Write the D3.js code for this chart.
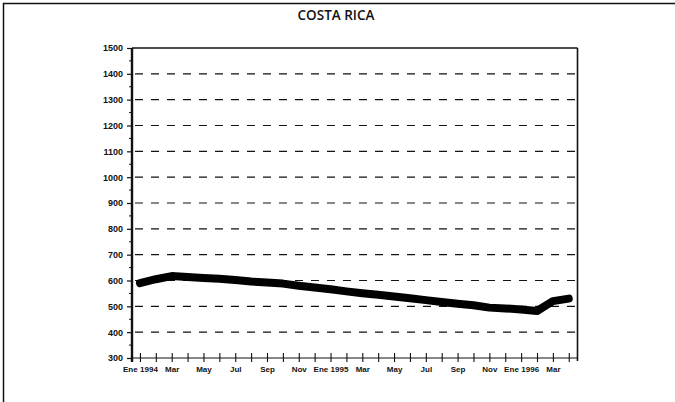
<!DOCTYPE html>
<html>
<head>
<meta charset="utf-8">
<script src="https://cdn.jsdelivr.net/npm/d3@7"></script>
<style>
  html, body { margin: 0; padding: 0; background: #fff; }
  svg { display: block; }
</style>
</head>
<body>
<svg id="chart" width="675" height="402"></svg>
<script>
const title = "COSTA RICA";
const months = ["Ene 1994","Feb","Mar","Abr","May","Jun","Jul","Ago","Sep","Oct","Nov","Dic",
                "Ene 1995","Feb","Mar","Abr","May","Jun","Jul","Ago","Sep","Oct","Nov","Dic",
                "Ene 1996","Feb","Mar","Abr"];
const values = [590,605,617,614,610,607,602,596,592,588,580,573,
                566,558,551,545,538,531,524,517,510,504,495,492,
                488,482,520,530];
const yTicks = [300,400,500,600,700,800,900,1000,1100,1200,1300,1400,1500];
const labelEvery = 2;

(function () {
const svg = d3.select("#chart");
const pL = 132, pR = 577.5, pT = 48, pB = 358;

const x = d3.scaleLinear().domain([-0.5, months.length - 0.45]).range([pL, pR]);
const y = d3.scaleLinear().domain([300, 1500]).range([pB, pT]);

// outer frame (top and left edges)
svg.append("line").attr("x1", 3).attr("x2", 675).attr("y1", 3.5).attr("y2", 3.5)
  .attr("stroke", "#111").attr("stroke-width", 1.5);
svg.append("line").attr("x1", 3.5).attr("x2", 3.5).attr("y1", 3).attr("y2", 402)
  .attr("stroke", "#111").attr("stroke-width", 1.5);

// title
svg.append("text").attr("x", 336).attr("y", 20).attr("text-anchor", "middle")
  .attr("font-family", "'Open Sans', sans-serif").attr("font-weight", 600)
  .attr("font-size", 13.5).attr("fill", "#111").text(title);

// dashed gridlines
svg.append("g").selectAll("line").data(yTicks.filter(d => d > 300 && d < 1500)).join("line")
  .attr("x1", pL).attr("x2", pR)
  .attr("y1", d => y(d)).attr("y2", d => y(d))
  .attr("stroke", "#111").attr("stroke-width", 1.2)
  .attr("stroke-dasharray", "8,8").attr("stroke-dashoffset", -3);

// top solid line and right border
svg.append("line").attr("x1", pL).attr("x2", pR).attr("y1", y(1500)).attr("y2", y(1500))
  .attr("stroke", "#111").attr("stroke-width", 1.3);
svg.append("line").attr("x1", pR).attr("x2", pR).attr("y1", y(1500)).attr("y2", pB + 3)
  .attr("stroke", "#111").attr("stroke-width", 1.6);

// y axis
const yAxis = d3.axisLeft(y).tickValues(yTicks).tickSize(5).tickPadding(4).tickFormat(d3.format("d"));
const gy = svg.append("g").attr("transform", `translate(${pL},0)`).call(yAxis);
gy.select(".domain").remove();
gy.selectAll(".tick line").attr("stroke", "#111").attr("stroke-width", 1.2);
gy.selectAll(".tick text").attr("font-family", "'Liberation Sans', Arial, sans-serif")
  .attr("font-weight", "bold").attr("font-size", 9).attr("fill", "#111");
// minor ticks
svg.append("g").selectAll("line").data(d3.range(350, 1500, 100)).join("line")
  .attr("x1", pL - 3).attr("x2", pL)
  .attr("y1", d => y(d)).attr("y2", d => y(d))
  .attr("stroke", "#111").attr("stroke-width", 1);
svg.append("line").attr("x1", pL).attr("x2", pL).attr("y1", y(1500)).attr("y2", pB + 4)
  .attr("stroke", "#111").attr("stroke-width", 2.4);

// x axis
svg.append("line").attr("x1", pL).attr("x2", pR).attr("y1", pB).attr("y2", pB)
  .attr("stroke", "#111").attr("stroke-width", 1.1);
const xAxis = d3.axisBottom(x).tickValues(d3.range(months.length)).tickSize(4).tickPadding(4)
  .tickFormat(i => i % labelEvery === 0 ? months[i] : "");
const gx = svg.append("g").attr("transform", `translate(0,${pB})`).call(xAxis);
gx.select(".domain").remove();
gx.selectAll(".tick line").attr("stroke", "#111").attr("stroke-width", 1.1).attr("y1", -5);
gx.selectAll(".tick text").attr("font-family", "'Liberation Sans', Arial, sans-serif")
  .attr("font-weight", "bold").attr("font-size", 8).attr("fill", "#111")
  .attr("textLength", function(i){ return months[i].length > 4 ? 35 : null; });

// data line
const line = d3.line().x((d, i) => x(i)).y(d => y(d)).curve(d3.curveLinear);
svg.append("path").datum(values).attr("d", line)
  .attr("fill", "none").attr("stroke", "#000").attr("stroke-width", 8)
  .attr("stroke-linejoin", "round").attr("stroke-linecap", "round");
})();
</script>
</body>
</html>
